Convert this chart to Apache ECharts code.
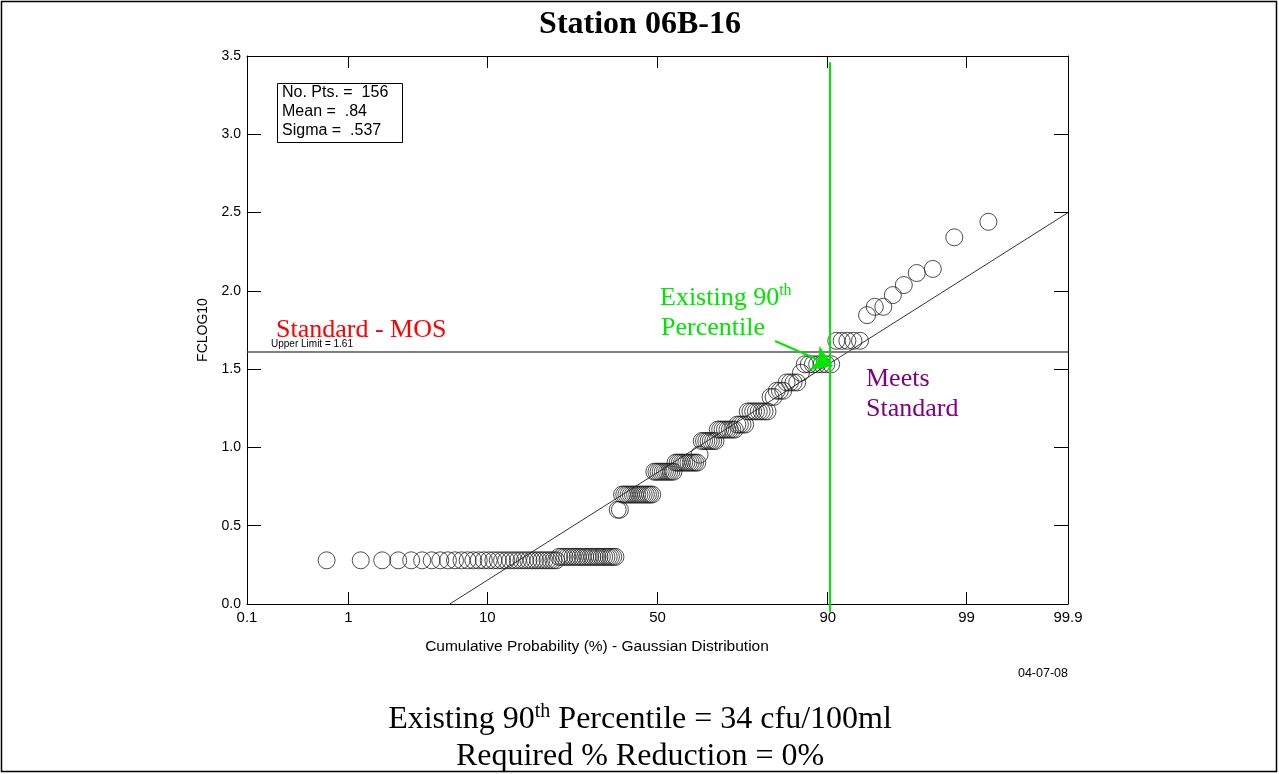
<!DOCTYPE html>
<html>
<head>
<meta charset="utf-8">
<script src="https://cdn.jsdelivr.net/npm/echarts@6/dist/echarts.min.js"></script>
<style>
html,body{margin:0;padding:0;background:#fff;}
#chart{width:1279px;height:774px;}
</style>
</head>
<body>
<div id="chart"></div>
<script>
// ---------------- data ----------------
// x-axis tick positions (cumulative probability, %) and their labels
const tickProbs  = [0.1, 1, 10, 50, 90, 99, 99.9];
const tickLabels = ['0.1', '1', '10', '50', '90', '99', '99.9'];
// y-axis (FCLOG10)
const yMin = 0, yMax = 3.5, yStep = 0.5;
// sorted observations, log10(fecal coliform), 156 points
const sortedValues = [
  0.279,0.279,0.279,0.279,0.279,0.279,0.279,0.279,0.279,0.279,
  0.279,0.279,0.279,0.279,0.279,0.279,0.279,0.279,0.279,0.279,
  0.279,0.279,0.279,0.279,0.279,0.279,0.279,0.279,0.279,0.279,
  0.279,0.279,0.279,0.279,0.279,
  0.301,0.301,0.301,0.301,0.301,0.301,0.301,0.301,0.301,0.301,
  0.301,0.301,0.301,0.301,0.301,0.301,0.301,0.301,0.301,0.301,
  0.301,0.301,0.301,0.301,
  0.602,0.602,
  0.699,0.699,0.699,0.699,0.699,0.699,0.699,0.699,0.699,0.699,
  0.699,0.699,0.699,0.699,0.699,
  0.845,0.845,0.845,0.845,0.845,0.845,0.845,0.845,0.845,0.845,
  0.903,0.903,0.903,0.903,0.903,0.903,0.903,0.903,0.903,0.903,0.903,
  0.954,
  1.041,1.041,1.041,1.041,1.041,1.041,1.041,
  1.114,1.114,1.114,1.114,1.114,1.114,1.114,1.114,
  1.146,1.146,1.146,1.146,
  1.230,1.230,1.230,1.230,1.230,1.230,1.230,1.230,
  1.322,1.322,
  1.362,1.362,1.362,
  1.415,1.415,1.415,1.415,
  1.477,
  1.531,1.531,1.531,1.531,1.531,1.531,1.531,
  1.681,1.681,1.681,1.681,1.681,
  1.845,1.898,1.898,1.973,2.037,2.114,2.140,2.342,2.441
];
// fitted normal line
const fitMean  = 0.84;
const fitSigma = 0.537;
// standard
const upperLimit = 1.61;
// annotations (probability %, FCLOG10)
const p90LineProb = 90.3;
const p90LineY    = [-0.05, 3.46];
const arrowFrom   = [81.2, 1.68];
const arrowTo     = [90.6, 1.52];
const statsLines  = ['No. Pts. =  156', 'Mean =  .84', 'Sigma =  .537'];

// ---------------- probability scale ----------------
function normInv(p) {
  const a=[-3.969683028665376e+01,2.209460984245205e+02,-2.759285104469687e+02,1.383577518672690e+02,-3.066479806614716e+01,2.506628277459239e+00];
  const b=[-5.447609879822406e+01,1.615858368580409e+02,-1.556989798598866e+02,6.680131188771972e+01,-1.328068155288572e+01];
  const c=[-7.784894002430293e-03,-3.223964580411365e-01,-2.400758277161838e+00,-2.549671010029514e+00,4.374664141464968e+00,2.938163982698783e+00];
  const d=[7.784695709041462e-03,3.224671290700398e-01,2.445134137142996e+00,3.754408661907416e+00];
  const pl=0.02425, ph=1-pl; let q,r;
  if (p<pl){q=Math.sqrt(-2*Math.log(p));return (((((c[0]*q+c[1])*q+c[2])*q+c[3])*q+c[4])*q+c[5])/((((d[0]*q+d[1])*q+d[2])*q+d[3])*q+1);}
  if (p<=ph){q=p-0.5;r=q*q;return (((((a[0]*r+a[1])*r+a[2])*r+a[3])*r+a[4])*r+a[5])*q/(((((b[0]*r+b[1])*r+b[2])*r+b[3])*r+b[4])*r+1);}
  q=Math.sqrt(-2*Math.log(1-p));return -(((((c[0]*q+c[1])*q+c[2])*q+c[3])*q+c[4])*q+c[5])/((((d[0]*q+d[1])*q+d[2])*q+d[3])*q+1);
}
const zOf = pct => normInv(pct / 100);
const tickZ = tickProbs.map(zOf);
const xMin = tickZ[0], xMax = tickZ[tickZ.length - 1];
const n = sortedValues.length;
const scatterData = sortedValues.map((v, i) => [normInv((i + 1) / (n + 1)), v]);
const fitStartZ = (yMin - fitMean) / fitSigma;
const fitData = [[fitStartZ, yMin], [xMax, fitMean + fitSigma * xMax]];
const labelFor = v => {
  let best = 0;
  tickZ.forEach((z, i) => { if (Math.abs(z - v) < Math.abs(tickZ[best] - v)) best = i; });
  return tickLabels[best];
};

const SANS = 'Liberation Sans, Arial, sans-serif';
const SERIF = 'Liberation Serif, Times New Roman, serif';
const GREEN = '#00e600';

const chart = echarts.init(document.getElementById('chart'), null, {renderer: 'canvas'});
const axisLineStyle = {color: '#000', width: 1};
chart.setOption({
  animation: false,
  backgroundColor: '#fff',
  grid: {left: 247, top: 56, width: 821, height: 548, containLabel: false},
  xAxis: [{
    type: 'value', min: xMin, max: xMax, position: 'bottom',
    axisLine: {show: true, onZero: false, lineStyle: axisLineStyle},
    axisTick: {show: true, inside: true, length: 12, customValues: tickZ, lineStyle: axisLineStyle},
    axisLabel: {show: true, customValues: tickZ, formatter: labelFor, color: '#000',
      fontFamily: SANS, fontSize: 15, margin: 6, showMinLabel: true, showMaxLabel: true},
    splitLine: {show: false}
  }, {
    type: 'value', min: xMin, max: xMax, position: 'top',
    axisLine: {show: true, onZero: false, lineStyle: axisLineStyle},
    axisTick: {show: true, inside: true, length: 12, customValues: tickZ, lineStyle: axisLineStyle},
    axisLabel: {show: false},
    splitLine: {show: false}
  }],
  yAxis: [{
    type: 'value', min: yMin, max: yMax, interval: yStep, position: 'left',
    name: 'FCLOG10', nameLocation: 'middle', nameGap: 36, nameRotate: 90,
    nameTextStyle: {color: '#000', fontFamily: SANS, fontSize: 14},
    axisLine: {show: true, onZero: false, lineStyle: axisLineStyle},
    axisTick: {show: true, inside: true, length: 14, lineStyle: axisLineStyle},
    axisLabel: {color: '#000', fontFamily: SANS, fontSize: 14, margin: 6, formatter: v => v.toFixed(1)},
    splitLine: {show: false}
  }, {
    type: 'value', min: yMin, max: yMax, interval: yStep, position: 'right',
    axisLine: {show: true, onZero: false, lineStyle: axisLineStyle},
    axisTick: {show: true, inside: true, length: 14, lineStyle: axisLineStyle},
    axisLabel: {show: false},
    splitLine: {show: false}
  }],
  series: [{
    type: 'line', data: fitData, symbol: 'none', silent: true,
    lineStyle: {color: '#333', width: 1}, z: 2,
    markLine: {
      silent: true, symbol: 'none', label: {show: false},
      lineStyle: {color: '#555', width: 1.5, type: 'solid'},
      data: [{yAxis: upperLimit}]
    }
  }, {
    type: 'scatter', data: scatterData, symbol: 'circle', symbolSize: 17,
    itemStyle: {color: 'rgba(0,0,0,0)', borderColor: '#222', borderWidth: 1}, z: 3, silent: true
  }, {
    type: 'line', symbol: 'none', clip: false, silent: true, z: 5,
    data: p90LineY.map(y => [zOf(p90LineProb), y]),
    lineStyle: {color: GREEN, width: 2},
    markLine: {
      silent: true, symbol: ['none', 'arrow'], symbolSize: 20,
      label: {show: false},
      lineStyle: {color: GREEN, width: 2, type: 'solid'},
      itemStyle: {color: GREEN},
      data: [[{coord: [zOf(arrowFrom[0]), arrowFrom[1]]}, {coord: [zOf(arrowTo[0]), arrowTo[1]]}]]
    }
  }],
  graphic: [
    {type: 'rect', shape: {x: 1.5, y: 1.5, width: 1275, height: 770}, style: {fill: 'none', stroke: '#000', lineWidth: 1.5}, silent: true},
    {type: 'text', x: 640, y: 25, style: {text: 'Station 06B-16', font: 'bold 32px ' + SERIF, fill: '#000', align: 'center', verticalAlign: 'middle', textAlign: 'center', textVerticalAlign: 'middle'}},
    {type: 'rect', shape: {x: 277.5, y: 83.5, width: 125, height: 59}, style: {fill: '#fff', stroke: '#000', lineWidth: 1}, z: 10},
    {type: 'text', x: 282, y: 93, z: 11, style: {text: statsLines[0], font: '16px ' + SANS, fill: '#000', verticalAlign: 'middle', textVerticalAlign: 'middle'}},
    {type: 'text', x: 282, y: 112, z: 11, style: {text: statsLines[1], font: '16px ' + SANS, fill: '#000', verticalAlign: 'middle', textVerticalAlign: 'middle'}},
    {type: 'text', x: 282, y: 131, z: 11, style: {text: statsLines[2], font: '16px ' + SANS, fill: '#000', verticalAlign: 'middle', textVerticalAlign: 'middle'}},
    {type: 'text', x: 276, y: 330, z: 11, style: {text: 'Standard - MOS', font: '26px ' + SERIF, fill: '#ff0000', verticalAlign: 'middle', textVerticalAlign: 'middle'}},
    {type: 'text', x: 271, y: 344, z: 11, style: {text: 'Upper Limit = 1.61', font: '10px ' + SANS, fill: '#000', verticalAlign: 'middle', textVerticalAlign: 'middle'}},
    {type: 'text', x: 660, y: 298, z: 11, style: {
      text: '{a|Existing 90}{s|th}', verticalAlign: 'middle', textVerticalAlign: 'middle',
      rich: {a: {fontSize: 26, fontFamily: SERIF, fill: GREEN, lineHeight: 30},
             s: {fontSize: 16, fontFamily: SERIF, fill: GREEN, lineHeight: 14, verticalAlign: 'top'}}}},
    {type: 'text', x: 661, y: 328, z: 11, style: {text: 'Percentile', font: '26px ' + SERIF, fill: GREEN, verticalAlign: 'middle', textVerticalAlign: 'middle'}},
    {type: 'text', x: 866, y: 379, z: 11, style: {text: 'Meets', font: '26px ' + SERIF, fill: '#800080', verticalAlign: 'middle', textVerticalAlign: 'middle'}},
    {type: 'text', x: 866, y: 409, z: 11, style: {text: 'Standard', font: '26px ' + SERIF, fill: '#800080', verticalAlign: 'middle', textVerticalAlign: 'middle'}},
    {type: 'text', x: 597, y: 647, style: {text: 'Cumulative Probability (%) - Gaussian Distribution', font: '15.5px ' + SANS, fill: '#000', align: 'center', verticalAlign: 'middle', textAlign: 'center', textVerticalAlign: 'middle'}},
    {type: 'text', x: 1068, y: 674, style: {text: '04-07-08', font: '12.5px ' + SANS, fill: '#000', align: 'right', verticalAlign: 'middle', textAlign: 'right', textVerticalAlign: 'middle'}},
    {type: 'text', x: 640, y: 720, style: {
      text: '{a|Existing 90}{s|th}{a| Percentile = 34 cfu/100ml}', align: 'center', verticalAlign: 'middle', textAlign: 'center', textVerticalAlign: 'middle',
      rich: {a: {fontSize: 32, fontFamily: SERIF, fill: '#000', lineHeight: 36},
             s: {fontSize: 20, fontFamily: SERIF, fill: '#000', lineHeight: 18, verticalAlign: 'top'}}}},
    {type: 'text', x: 640, y: 757, style: {text: 'Required % Reduction = 0%', font: '32px ' + SERIF, fill: '#000', align: 'center', verticalAlign: 'middle', textAlign: 'center', textVerticalAlign: 'middle'}}
  ]
});
</script>
</body>
</html>
